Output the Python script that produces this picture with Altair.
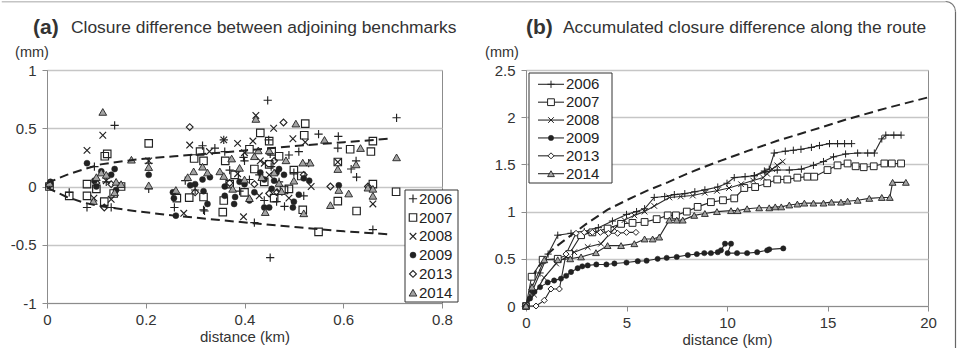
import altair as alt
import pandas as pd

FONT = "Liberation Sans"
INK = "#222222"
TEXT = "#333333"
FRAME = "#8c8c8c"
YEARS = ["2006", "2007", "2008", "2009", "2013", "2014"]

# ---------------- (a) closure difference between adjoining benchmarks ----------------
# distance (km) / closure difference (mm) per survey year
A_2006_X = [0.005, 0.045, 0.081, 0.096, 0.12, 0.13, 0.137, 0.206, 0.206, 0.258, 0.28, 0.30, 0.315, 0.317,
            0.319, 0.358, 0.36, 0.37, 0.398, 0.40, 0.42, 0.43, 0.44, 0.447, 0.449, 0.452, 0.452, 0.454,
            0.47, 0.481, 0.49, 0.50, 0.52, 0.55, 0.589, 0.59, 0.616, 0.626, 0.627, 0.66, 0.708,
            0.34, 0.39, 0.41, 0.465, 0.51, 0.53]
A_2006_Y = [0.02, -0.05, -0.18, 0.17, 0.04, -0.18, 0.525, -0.02, 0.20, -0.18, 0.05, -0.03, 0.35, -0.20,
            -0.21, 0.40, 0.30, 0.14, 0.25, 0.22, -0.31, 0.10, -0.12, 0.74, 0.40, 0.28, -0.61, 0.17,
            0.04, -0.17, 0.27, 0.12, -0.08, 0.45, 0.33, 0.43, 0.15, 0.22, 0.08, -0.37, 0.59,
            0.33, -0.04, 0.06, -0.13, 0.30, 0.20]

A_2007_X = [0.005, 0.045, 0.081, 0.081, 0.10, 0.116, 0.117, 0.122, 0.135, 0.15, 0.206, 0.263, 0.288,
            0.298, 0.31, 0.317, 0.317, 0.356, 0.358, 0.361, 0.37, 0.40, 0.41, 0.432, 0.45, 0.45, 0.455,
            0.46, 0.48, 0.50, 0.518, 0.521, 0.523, 0.55, 0.589, 0.589, 0.614, 0.627, 0.656, 0.66, 0.66, 0.707,
            0.38, 0.42, 0.44, 0.47, 0.49, 0.515]
A_2007_Y = [0.0, -0.08, -0.08, 0.02, -0.02, -0.13, 0.26, 0.28, -0.06, 0.0, 0.37, -0.10, -0.095,
            0.24, 0.30, 0.22, -0.09, -0.22, -0.12, 0.22, 0.02, -0.05, 0.32, 0.46, 0.19, 0.39, 0.30,
            -0.10, -0.03, 0.14, -0.20, 0.44, 0.54, -0.39, 0.21, -0.125, 0.32, -0.21, 0.30, 0.39, 0.02, -0.045,
            0.10, 0.15, 0.04, 0.26, -0.02, 0.09]

A_2008_X = [0.081, 0.095, 0.113, 0.12, 0.13, 0.206, 0.277, 0.289, 0.329, 0.358, 0.386, 0.386, 0.398,
            0.417, 0.423, 0.432, 0.44, 0.459, 0.47, 0.498, 0.523, 0.535, 0.589, 0.66,
            0.40, 0.45, 0.49, 0.43]
A_2008_Y = [0.31, -0.10, 0.44, 0.05, -0.11, 0.22, -0.23, 0.356, 0.30, 0.40, 0.37, 0.11, -0.26,
            0.39, 0.61, 0.22, 0.20, 0.50, -0.05, 0.41, 0.38, 0.0, 0.21, -0.15,
            0.29, 0.10, -0.10, -0.08]

A_2009_X = [0.007, 0.081, 0.096, 0.10, 0.13, 0.137, 0.14, 0.206, 0.255, 0.257, 0.261, 0.29, 0.315,
            0.317, 0.325, 0.33, 0.36, 0.36, 0.379, 0.381, 0.40, 0.42, 0.432, 0.44, 0.45, 0.46, 0.47,
            0.48, 0.498, 0.51, 0.52, 0.531, 0.591,
            0.11, 0.30, 0.39, 0.41, 0.44, 0.455, 0.465, 0.50]
A_2009_Y = [0.04, 0.20, 0.05, 0.0, 0.10, 0.15, -0.03, 0.10, -0.05, -0.10, -0.25, 0.01, 0.06,
            -0.04, -0.15, 0.08, -0.08, 0.0, -0.15, -0.09, 0.02, -0.05, 0.12, -0.18, -0.18, 0.05, 0.15,
            0.10, -0.18, -0.07, 0.07, 0.05, 0.01,
            0.13, 0.02, 0.04, -0.12, 0.06, -0.02, 0.12, -0.13]

A_2013_X = [0.005, 0.10, 0.116, 0.13, 0.289, 0.30, 0.37, 0.42, 0.45, 0.46, 0.466, 0.479, 0.52, 0.574, 0.65]
A_2013_Y = [0.01, 0.03, -0.18, 0.02, 0.51, -0.05, 0.03, 0.02, -0.06, 0.22, -0.05, 0.55, 0.10, 0.0, 0.0]

A_2014_X = [0.005, 0.094, 0.10, 0.11, 0.113, 0.12, 0.137, 0.14, 0.15, 0.171, 0.206, 0.206, 0.261,
            0.285, 0.297, 0.315, 0.325, 0.35, 0.358, 0.374, 0.376, 0.40, 0.42, 0.423, 0.428, 0.442,
            0.46, 0.47, 0.484, 0.50, 0.504, 0.518, 0.52, 0.533, 0.562, 0.574, 0.589, 0.591, 0.611,
            0.626, 0.635, 0.65, 0.66, 0.66, 0.708,
            0.39, 0.41, 0.435, 0.45, 0.475]
A_2014_Y = [0.03, -0.125, 0.08, 0.12, 0.64, 0.10, -0.05, 0.04, 0.02, 0.23, 0.167, 0.01, -0.03,
            0.08, 0.13, 0.17, 0.12, 0.13, 0.09, 0.24, -0.02, 0.06, 0.26, 0.58, 0.31, -0.22,
            0.12, 0.03, 0.225, 0.05, 0.54, 0.205, -0.23, 0.205, 0.40, -0.16, 0.15, -0.03, -0.06,
            0.19, 0.33, -0.01, -0.08, -0.02, 0.25,
            0.16, -0.10, 0.08, 0.31, -0.04]

# dashed envelope
ENV_X = [0.0, 0.04, 0.076, 0.109, 0.177, 0.258, 0.379, 0.508, 0.602, 0.693]
ENV_UPPER = [0.03, 0.10, 0.15, 0.19, 0.23, 0.26, 0.30, 0.35, 0.38, 0.41]
ENV_LOWER = [-0.01, -0.09, -0.14, -0.17, -0.21, -0.25, -0.30, -0.35, -0.385, -0.41]

# ---------------- (b) accumulated closure difference along the route ----------------
# 2006 was levelled along a main line and a second leg that splits off near 11 km
B_2006_X = [0, 0.3, 0.7, 1.1, 1.58, 2.24, 2.9, 3.6, 4.3, 5.0, 5.5, 5.9, 6.38, 6.9, 7.38, 7.9, 8.4, 8.9,
            9.54, 10.0, 10.36, 10.9, 11.36, 11.86, 12.1, 12.35, 12.9, 13.3, 13.68, 14.2, 14.6, 15.1,
            15.5, 15.85, 16.2]
B_2006_Y = [0, 0.15, 0.35, 0.55, 0.75, 0.77, 0.79, 0.83, 0.90, 0.97, 1.0, 1.03, 1.15, 1.16, 1.18, 1.19,
            1.21, 1.23, 1.26, 1.30, 1.36, 1.37, 1.38, 1.43, 1.45, 1.62, 1.64, 1.65, 1.66, 1.68, 1.70,
            1.72, 1.72, 1.72, 1.72]
B_2006_LEG2_X = [11.36, 11.9, 12.5, 13.1, 13.7, 14.3, 14.8, 15.3, 15.9, 16.5, 17.0, 17.33, 17.7,
                 17.9, 18.3, 18.66]
B_2006_LEG2_Y = [1.38, 1.42, 1.44, 1.44, 1.45, 1.49, 1.53, 1.58, 1.61, 1.62, 1.62, 1.62, 1.77,
                 1.81, 1.81, 1.81]

B_2007_X = [0, 0.28, 0.83, 1.58, 2.15, 2.74, 3.3, 4.06, 4.73, 5.3, 5.9, 6.5, 7.05, 7.46, 8.0, 8.54, 9.2,
            9.8, 10.36, 10.86, 11.4, 12.0, 12.5, 13.0, 13.5, 14.0, 14.34, 15.0, 15.5, 16.0, 16.4, 16.8,
            17.3, 17.83, 18.2, 18.66]
B_2007_Y = [0, 0.31, 0.49, 0.50, 0.55, 0.75, 0.78, 0.82, 0.87, 0.88, 0.89, 0.92, 0.96, 0.96, 1.0, 1.05,
            1.10, 1.12, 1.14, 1.25, 1.26, 1.30, 1.34, 1.34, 1.36, 1.37, 1.37, 1.44, 1.49, 1.51, 1.48,
            1.47, 1.48, 1.51, 1.51, 1.51]

B_2008_X = [0, 0.4, 0.9, 1.5, 2.0, 2.4, 3.07, 3.73, 4.4, 4.9, 5.39, 5.9, 6.38, 7.13, 7.7, 8.3, 8.9, 9.5,
            10.1, 10.7, 11.3, 11.8, 12.0, 12.25, 12.5, 12.77]
B_2008_Y = [0, 0.12, 0.30, 0.45, 0.52, 0.57, 0.625, 0.66, 0.82, 0.91, 0.96, 1.0, 1.06, 1.15, 1.16, 1.17,
            1.20, 1.22, 1.25, 1.29, 1.33, 1.36, 1.40, 1.45, 1.49, 1.53]

B_2009_X = [0, 0.2, 0.42, 0.7, 1.08, 1.4, 1.74, 2.0, 2.24, 2.57, 2.8, 3.07, 3.5, 4.0, 4.4, 5.0, 5.56,
            6.0, 6.55, 7.0, 7.5, 8.05, 8.5, 8.87, 9.2, 9.54, 9.7, 9.9, 10.2, 10.03, 10.5, 11.0, 11.5,
            12.0, 12.1, 12.8]
B_2009_Y = [0, 0.08, 0.15, 0.20, 0.25, 0.27, 0.29, 0.32, 0.36, 0.40, 0.42, 0.43, 0.44, 0.44, 0.45, 0.46,
            0.475, 0.48, 0.50, 0.51, 0.52, 0.54, 0.55, 0.56, 0.56, 0.57, 0.59, 0.66, 0.66, 0.56, 0.56,
            0.56, 0.57, 0.59, 0.60, 0.61]

B_2013_X = [0, 0.5, 0.91, 1.24, 1.66, 1.99, 2.49, 2.9, 3.3, 3.7, 4.1, 4.56, 5.0, 5.47]
B_2013_Y = [0, 0.0, 0.06, 0.18, 0.18, 0.55, 0.77, 0.78, 0.78, 0.78, 0.77, 0.77, 0.78, 0.78]

B_2014_X = [0, 0.3, 0.91, 1.58, 2.2, 2.74, 3.48, 4.06, 4.73, 5.39, 5.9, 6.3, 6.63, 7.13, 7.5, 7.8, 8.37,
            8.9, 9.5, 10.2, 10.53, 11.0, 11.6, 12.1, 12.4, 12.7, 13.1, 13.5, 13.85, 14.3, 14.8, 15.2,
            15.67, 16.0, 16.5, 17.08, 17.7, 18.1, 18.24, 18.9]
B_2014_Y = [0, 0.20, 0.49, 0.49, 0.50, 0.52, 0.565, 0.64, 0.64, 0.66, 0.71, 0.71, 0.73, 0.91, 0.91, 0.91,
            0.96, 0.98, 1.0, 1.01, 1.01, 1.03, 1.04, 1.04, 1.05, 1.05, 1.07, 1.08, 1.09, 1.09, 1.09,
            1.10, 1.10, 1.11, 1.12, 1.14, 1.15, 1.15, 1.31, 1.31]

# dashed reference curve
CURVE_X = [0, 0.5, 1.08, 1.5, 2.0, 3.0, 4.06, 5.0, 6.0, 7.05, 8.0, 8.7, 9.7, 11.0, 12.5, 14.2, 16.0, 18.0, 20.0]
CURVE_Y = [0, 0.38, 0.55, 0.63, 0.71, 0.87, 1.02, 1.12, 1.22, 1.31, 1.40, 1.46, 1.54, 1.64, 1.75, 1.86, 1.98, 2.10, 2.21]

TITLE_A_TAG, TITLE_A = "(a)", "Closure difference between adjoining benchmarks"
TITLE_B_TAG, TITLE_B = "(b)", "Accumulated closure difference along the route"
UNIT = "(mm)"
X_TITLE = "distance (km)"

A_SERIES = {"2006": (A_2006_X, A_2006_Y), "2007": (A_2007_X, A_2007_Y), "2008": (A_2008_X, A_2008_Y),
            "2009": (A_2009_X, A_2009_Y), "2013": (A_2013_X, A_2013_Y), "2014": (A_2014_X, A_2014_Y)}
B_SERIES = [("2006", "main", B_2006_X, B_2006_Y), ("2006", "leg2", B_2006_LEG2_X, B_2006_LEG2_Y),
            ("2007", "main", B_2007_X, B_2007_Y), ("2008", "main", B_2008_X, B_2008_Y),
            ("2009", "main", B_2009_X, B_2009_Y), ("2013", "main", B_2013_X, B_2013_Y),
            ("2014", "main", B_2014_X, B_2014_Y)]

scatter_df = pd.DataFrame([
    {"year": yr, "dist": x, "diff": y}
    for yr, (xs, ys) in A_SERIES.items() for x, y in zip(xs, ys)
])
envelope_df = pd.DataFrame(
    [{"bound": "upper", "dist": x, "diff": y} for x, y in zip(ENV_X, ENV_UPPER)]
    + [{"bound": "lower", "dist": x, "diff": y} for x, y in zip(ENV_X, ENV_LOWER)]
)
route_df = pd.DataFrame([
    {"year": yr, "line": yr + "-" + leg, "idx": i, "dist": x, "acc": y}
    for yr, leg, xs, ys in B_SERIES for i, (x, y) in enumerate(zip(xs, ys))
])
curve_df = pd.DataFrame({"dist": CURVE_X, "acc": CURVE_Y})
legend_df = pd.DataFrame({"year": YEARS})
one = pd.DataFrame({"k": [0]})

# marker styles
PLUS = "M-1,0L1,0M0,-1L0,1"
CROSS = "M-0.8,-0.8L0.8,0.8M-0.8,0.8L0.8,-0.8"


def styles(sizes, open_fill, sw):
    return {
        "2006": dict(shape=PLUS, size=sizes[0], fill="transparent", stroke=INK, strokeWidth=sw),
        "2007": dict(shape="square", size=sizes[1], fill=open_fill, stroke=INK, strokeWidth=sw),
        "2008": dict(shape=CROSS, size=sizes[2], fill="transparent", stroke=INK, strokeWidth=sw),
        "2009": dict(shape="circle", size=sizes[3], fill=INK, stroke=INK, strokeWidth=0.5),
        "2013": dict(shape="diamond", size=sizes[4], fill=open_fill, stroke=INK, strokeWidth=sw),
        "2014": dict(shape="triangle-up", size=sizes[5], fill="#a3a3a3", stroke=INK, strokeWidth=0.9),
    }


STYLE_A = styles([68, 56, 68, 36, 46, 60], "transparent", 1.15)
STYLE_B = styles([52, 46, 50, 28, 36, 46], "white", 1.0)

axis_common = dict(labelFlush=False, labelExpr="'' + datum.value")

# ---------------- panel (a) ----------------
XA = alt.X("dist:Q", scale=alt.Scale(domain=[0, 0.8], nice=False),
           axis=alt.Axis(values=[0, 0.2, 0.4, 0.6, 0.8], title=X_TITLE, grid=False, **axis_common))
YA = alt.Y("diff:Q", scale=alt.Scale(domain=[-1, 1], nice=False),
           axis=alt.Axis(values=[-1, -0.5, 0, 0.5, 1], title=None, grid=True, **axis_common))

a_main = [
    alt.Chart(scatter_df).transform_filter(alt.datum.year == yr)
    .mark_point(opacity=1, filled=True, **STYLE_A[yr]).encode(x=XA, y=YA)
    for yr in YEARS
]
a_main.append(
    alt.Chart(envelope_df).mark_line(color=INK, strokeWidth=2, strokeDash=[9, 5])
    .encode(x=XA, y=YA, detail="bound:N")
)

LYA = alt.Y("year:N", scale=alt.Scale(type="point", domain=YEARS, range=[128.7, 222.7], padding=0), axis=None)
a_legend = [alt.Chart(one).mark_rect(fill="white", stroke="#333", strokeWidth=1)
            .encode(x=alt.value(358), x2=alt.value(411), y=alt.value(120), y2=alt.value(232))]
a_legend += [
    alt.Chart(legend_df).transform_filter(alt.datum.year == yr)
    .mark_point(opacity=1, filled=True, **STYLE_A[yr]).encode(x=alt.value(366), y=LYA)
    for yr in YEARS
]
a_legend.append(alt.Chart(legend_df).mark_text(align="left", baseline="middle", font=FONT, fontSize=15, color=INK)
                .encode(x=alt.value(372), y=LYA, text="year:N"))

a_decor = [
    alt.Chart(one).mark_text(align="left", baseline="alphabetic", font=FONT, fontSize=21, fontWeight="bold", color=TEXT)
    .encode(x=alt.value(-14), y=alt.value(-36.5), text=alt.value(TITLE_A_TAG)),
    alt.Chart(one).mark_text(align="left", baseline="alphabetic", font=FONT, fontSize=17.4, color=TEXT)
    .encode(x=alt.value(24), y=alt.value(-37), text=alt.value(TITLE_A)),
    alt.Chart(one).mark_text(align="center", baseline="middle", font=FONT, fontSize=14.5, color=TEXT)
    .encode(x=alt.value(-15), y=alt.value(-17), text=alt.value(UNIT)),
    alt.Chart(one).mark_rule(color="#c4c4c4", strokeWidth=1.5)
    .encode(x=alt.value(-45.25), x2=alt.value(898.5), y=alt.value(-68.25)),
]

panel_a = alt.layer(alt.layer(*a_main), alt.layer(*a_legend), *a_decor).resolve_scale(y="independent").properties(
    width=395, height=233)

# ---------------- panel (b) ----------------
XB = alt.X("dist:Q", scale=alt.Scale(domain=[0, 20], nice=False),
           axis=alt.Axis(values=[0, 5, 10, 15, 20], title=X_TITLE, grid=False, **axis_common))
YB = alt.Y("acc:Q", scale=alt.Scale(domain=[0, 2.5], nice=False),
           axis=alt.Axis(values=[0, 0.5, 1, 1.5, 2, 2.5], title=None, grid=True, **axis_common))

b_main = [
    alt.Chart(curve_df).mark_line(color=INK, strokeWidth=2, strokeDash=[9, 5]).encode(x=XB, y=YB),
    alt.Chart(route_df).mark_line(color="#2a2a2a", strokeWidth=1.1)
    .encode(x=XB, y=YB, detail="line:N", order="idx:Q"),
]
b_main += [
    alt.Chart(route_df).transform_filter(alt.datum.year == yr)
    .mark_point(opacity=1, filled=True, **STYLE_B[yr]).encode(x=XB, y=YB)
    for yr in YEARS
]

LYB = alt.Y("year:N", scale=alt.Scale(type="point", domain=YEARS, range=[14.3, 103.7], padding=0), axis=None)
b_legend = [
    alt.Chart(one).mark_rect(fill="white", stroke="#333", strokeWidth=1)
    .encode(x=alt.value(3), x2=alt.value(86), y=alt.value(3), y2=alt.value(113)),
    alt.Chart(legend_df).mark_rule(color="#2a2a2a", strokeWidth=1.1)
    .encode(x=alt.value(12), x2=alt.value(38), y=LYB),
]
b_legend += [
    alt.Chart(legend_df).transform_filter(alt.datum.year == yr)
    .mark_point(opacity=1, filled=True, **STYLE_B[yr]).encode(x=alt.value(25), y=LYB)
    for yr in YEARS
]
b_legend.append(alt.Chart(legend_df).mark_text(align="left", baseline="middle", font=FONT, fontSize=15, color=INK)
                .encode(x=alt.value(40), y=LYB, text="year:N"))

b_decor = [
    alt.Chart(one).mark_text(align="left", baseline="alphabetic", font=FONT, fontSize=21, fontWeight="bold", color=TEXT)
    .encode(x=alt.value(0), y=alt.value(-36.5), text=alt.value(TITLE_B_TAG)),
    alt.Chart(one).mark_text(align="left", baseline="alphabetic", font=FONT, fontSize=17.4, color=TEXT)
    .encode(x=alt.value(37), y=alt.value(-37), text=alt.value(TITLE_B)),
    alt.Chart(one).mark_text(align="center", baseline="middle", font=FONT, fontSize=14.5, color=TEXT)
    .encode(x=alt.value(-24), y=alt.value(-17), text=alt.value(UNIT)),
    alt.Chart(one).mark_rule(color="#666", strokeWidth=1.2)
    .encode(x=alt.value(429.5), y=alt.value(-58.5), y2=alt.value(278)),
    alt.Chart(one).mark_arc(theta=0, theta2=1.5708, innerRadius=9.4, outerRadius=10.6, color="#777")
    .encode(x=alt.value(419.5), y=alt.value(-58.5)),
]

panel_b = alt.layer(alt.layer(*b_main), alt.layer(*b_legend), *b_decor).resolve_scale(y="independent").properties(
    width=402, height=236)

chart = (
    alt.hconcat(panel_a, panel_b, spacing=84, bounds="flush")
    .properties(padding=0)
    .configure(font=FONT)
    .configure_view(stroke=FRAME, strokeWidth=1)
    .configure_axis(labelFont=FONT, labelFontSize=15, labelColor=TEXT, titleFont=FONT, titleFontSize=15,
                    titleFontWeight="normal", titleColor=TEXT, domainColor=FRAME, tickColor=FRAME, tickSize=5,
                    gridColor="#c6c6c6", gridWidth=1.5)
    .configure_axisX(labelPadding=4, titlePadding=2)
    .configure_axisY(labelPadding=6)
)

chart.save("out.html", embed_options={"renderer": "svg", "actions": False})
